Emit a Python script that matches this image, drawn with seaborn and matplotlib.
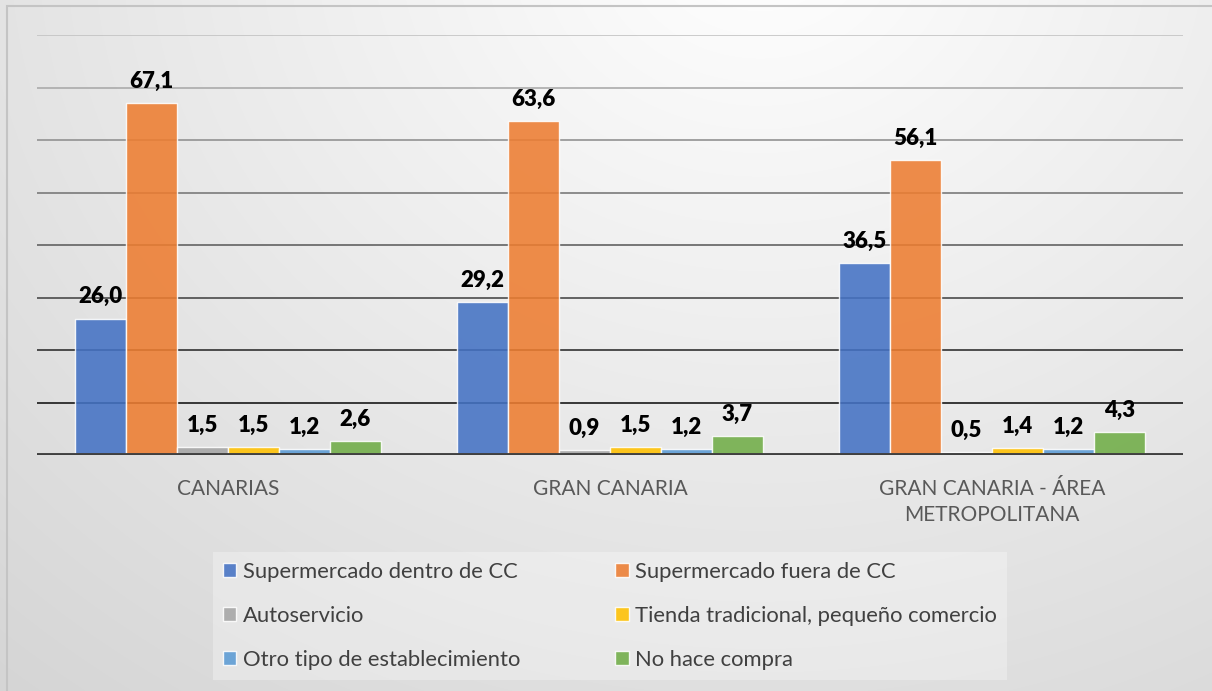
import numpy as np
import pandas as pd
import matplotlib
matplotlib.use("Agg")
import matplotlib.pyplot as plt
import matplotlib.patches as mpatches
import seaborn as sns

# ---- data ----
regions = ["CANARIAS", "GRAN CANARIA", "GRAN CANARIA - ÁREA\nMETROPOLITANA"]
series = [
    "Supermercado dentro de CC",
    "Supermercado fuera de CC",
    "Autoservicio",
    "Tienda tradicional, pequeño comercio",
    "Otro tipo de establecimiento",
    "No hace compra",
]
sup_dentro = [26.0, 29.2, 36.5]
sup_fuera = [67.1, 63.6, 56.1]
autoservicio = [1.5, 0.9, 0.5]
tienda = [1.5, 1.5, 1.4]
otro = [1.2, 1.2, 1.2]
no_compra = [2.6, 3.7, 4.3]
colors = ["#4472C4", "#ED7D31", "#A5A5A5", "#FFC000", "#5B9BD5", "#70AD47"]

values = [sup_dentro, sup_fuera, autoservicio, tienda, otro, no_compra]
rows = []
for s, vals in zip(series, values):
    for r, v in zip(regions, vals):
        rows.append({"region": r, "tipo": s, "valor": v})
df = pd.DataFrame(rows)

sns.set_theme(style="white")
plt.rcParams["font.family"] = ["Lato", "DejaVu Sans"]

W, H = 1212, 691
fig = plt.figure(figsize=(W / 100, H / 100), dpi=100, facecolor="white")

# background gradient
bg = fig.add_axes([0, 0, 1, 1], zorder=-10)
yy, xx = np.mgrid[0:H, 0:W]
d = np.sqrt(((xx - 760) / 1.0) ** 2 + ((yy + 60) / 0.85) ** 2)
g = np.clip(255 - 0.036 * d, 200, 255) / 255.0
bg.imshow(np.dstack([g, g, g]), aspect="auto", extent=[0, 1, 0, 1], interpolation="bilinear")
bg.set_axis_off()
bg.add_patch(mpatches.Rectangle((7 / W, -0.2), 2, 1.2 - 6 / H, transform=fig.transFigure,
                                fill=False, edgecolor="#c4c4c4", linewidth=1.5))

ax = fig.add_axes([37 / W, 1 - 455 / H, (1183 - 37) / W, (455 - 35) / H])
ax.patch.set_alpha(0)

sns.barplot(data=df, x="region", y="valor", hue="tipo", palette=colors, hue_order=series,
            order=regions, width=0.8, saturation=1, alpha=0.88, edgecolor="white",
            linewidth=1.0, ax=ax, legend=True, errorbar=None)

ax.set_ylim(0, 80)
ax.set_yticks(np.arange(0, 81, 10))
ax.set_xlim(-0.5, len(regions) - 0.5)
ax.set_yticklabels([])
ax.set_xlabel("")
ax.set_ylabel("")
for sp in ax.spines.values():
    sp.set_visible(False)

# gridlines with graded shades
ax.set_axisbelow(True)
for yt in ax.get_yticks():
    if yt <= 0:
        continue
    shade = 25 + (yt - 10) / 70 * 170
    c = (shade / 255,) * 3
    ax.axhline(yt, color=c, linewidth=1.2, zorder=0.5)
ax.axhline(0, color="#404040", linewidth=2.8, zorder=3)

ax.tick_params(axis="x", length=0, pad=17, labelsize=15, labelcolor="#595959")
ax.tick_params(axis="y", length=0)
for t in ax.get_xticklabels():
    t.set_linespacing(1.4)

for cont in ax.containers:
    labs = [f"{b.get_height():.1f}".replace(".", ",") for b in cont]
    ax.bar_label(cont, labels=labs, padding=8, fontsize=16, fontweight="heavy", color="black")

handles, labels = ax.get_legend_handles_labels()
ax.get_legend().remove()
order = [0, 2, 4, 1, 3, 5]
leg = fig.legend([handles[i] for i in order], [labels[i] for i in order], ncol=2,
                 loc="center", bbox_to_anchor=(610 / W, 1 - 616 / H), bbox_transform=fig.transFigure,
                 fontsize=15.8, frameon=True, fancybox=False, facecolor="white", framealpha=0.3,
                 edgecolor="none", handlelength=0.6, handleheight=0.6, handletextpad=0.3,
                 columnspacing=4.35, labelspacing=1.1, borderpad=0.45)
for t in leg.get_texts():
    t.set_color("#404040")

fig.savefig("out.png", dpi=100, facecolor=fig.get_facecolor())
